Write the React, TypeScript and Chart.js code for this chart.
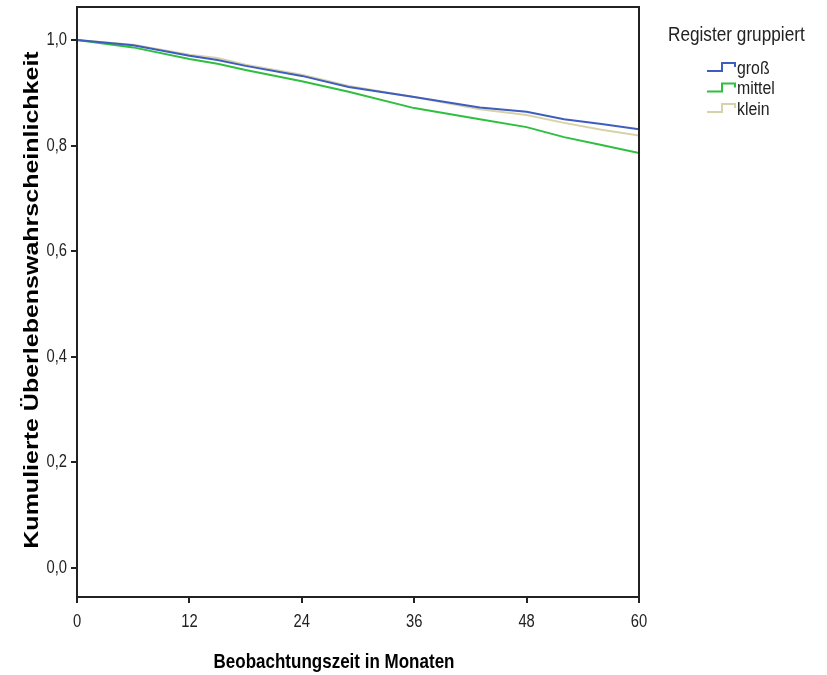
import React, { useEffect, useRef } from 'react';
import { Chart, registerables } from 'chart.js';
Chart.register(...registerables);

const months = [0, 6, 12, 15, 18, 24, 29, 36, 43, 48, 52, 56, 60];
const seriesNames = ['groß', 'mittel', 'klein'];
const gross = [1, 0.99, 0.97, 0.962, 0.951, 0.932, 0.911, 0.892, 0.872, 0.864, 0.85, 0.841, 0.831];
const mittel = [1, 0.986, 0.964, 0.955, 0.943, 0.922, 0.902, 0.871, 0.85, 0.835, 0.816, 0.801, 0.786];
const klein = [1, 0.991, 0.972, 0.966, 0.953, 0.934, 0.913, 0.892, 0.869, 0.858, 0.843, 0.83, 0.819];
const seriesColors = ['#3f5cbf', '#2fbf3f', '#d8d2a8'];
const yTicks = [0, 0.2, 0.4, 0.6, 0.8, 1.0];
const xTicks = [0, 12, 24, 36, 48, 60];
const X_TITLE = 'Beobachtungszeit in Monaten';
const Y_TITLE = 'Kumulierte Überlebenswahrscheinlichkeit';
const LEGEND_TITLE = 'Register gruppiert';

const SANS = '"Liberation Sans", Arial, sans-serif';
const INK = '#222';

function squeezed(ctx: CanvasRenderingContext2D, text: string, x: number, y: number, font: string, sx: number, align: CanvasTextAlign) {
  ctx.save();
  ctx.translate(x, y);
  ctx.scale(sx, 1);
  ctx.font = font;
  ctx.textAlign = align;
  ctx.textBaseline = 'middle';
  ctx.fillText(text, 0, 0);
  ctx.restore();
}

export default function App() {
  const ref = useRef<HTMLCanvasElement>(null);
  useEffect(() => {
    document.body.style.margin = '0';
    const decor = {
      id: 'decor',
      afterDraw(chart: any) {
        const { ctx, chartArea: a } = chart;
        ctx.save();
        ctx.strokeStyle = INK;
        ctx.lineWidth = 2;
        ctx.strokeRect(a.left, a.top, a.right - a.left, a.bottom - a.top);
        // tick labels
        ctx.fillStyle = INK;
        const xs = chart.scales.x;
        xs.ticks.forEach((t: any) => {
          squeezed(ctx, String(t.label), xs.getPixelForValue(t.value), 622, '18px ' + SANS, 0.82, 'center');
        });
        const ys = chart.scales.y;
        ys.ticks.forEach((t: any) => {
          squeezed(ctx, String(t.label), 67, ys.getPixelForValue(t.value), '18px ' + SANS, 0.82, 'right');
        });
        // x title
        ctx.fillStyle = '#000';
        squeezed(ctx, X_TITLE, 334, 662, 'bold 21px ' + SANS, 0.81, 'center');
        // y title
        ctx.save();
        ctx.translate(32, 300);
        ctx.rotate(-Math.PI / 2);
        ctx.scale(1, 0.82);
        ctx.font = 'bold 25px ' + SANS;
        ctx.textAlign = 'center';
        ctx.textBaseline = 'middle';
        ctx.fillText(Y_TITLE, 0, 0);
        ctx.restore();
        // legend
        ctx.fillStyle = INK;
        squeezed(ctx, LEGEND_TITLE, 668, 35, '20px ' + SANS, 0.86, 'left');
        chart.data.datasets.forEach((ds: any, i: number) => {
          const y = 69 + i * 20.5;
          ctx.strokeStyle = ds.borderColor;
          ctx.lineWidth = 2;
          ctx.beginPath();
          ctx.moveTo(707, y + 2);
          ctx.lineTo(722, y + 2);
          ctx.lineTo(722, y - 6);
          ctx.lineTo(735, y - 6);
          ctx.lineTo(735, y - 2);
          ctx.stroke();
          ctx.fillStyle = INK;
          squeezed(ctx, ds.label, 737, y, '18px ' + SANS, 0.88, 'left');
        });
        ctx.restore();
      },
    };
    const values = [gross, mittel, klein];
    const chart = new Chart(ref.current!, {
      type: 'line',
      data: {
        datasets: seriesNames.map((name, i) => ({
          label: name,
          data: months.map((m, j) => ({ x: m, y: values[i][j] })),
          borderColor: seriesColors[i],
          borderWidth: 2,
          pointRadius: 0,
          fill: false,
          tension: 0,
        })),
      },
      options: {
        animation: false,
        responsive: false,
        devicePixelRatio: 1,
        layout: { padding: { left: 0, top: 7, right: 188, bottom: 0 } },
        plugins: { legend: { display: false }, tooltip: { enabled: false } },
        scales: {
          x: {
            type: 'linear',
            min: 0,
            max: 60,
            afterBuildTicks: (s: any) => { s.ticks = xTicks.map((v) => ({ value: v })); },
            afterFit: (s: any) => { s.height = 78; },
            border: { display: false },
            grid: { drawOnChartArea: false, drawTicks: true, tickLength: 6, color: INK, lineWidth: 2 },
            ticks: { display: false, callback: (v: any) => String(v) },
          },
          y: {
            type: 'linear',
            min: -0.055,
            max: 1.0625,
            afterBuildTicks: (s: any) => { s.ticks = yTicks.map((v) => ({ value: v })); },
            afterFit: (s: any) => { s.width = 77; },
            border: { display: false },
            grid: { drawOnChartArea: false, drawTicks: true, tickLength: 6, color: INK, lineWidth: 2 },
            ticks: {
              display: false,
              callback: (v: any) => Number(v).toFixed(1).replace('.', ','),
            },
          },
        },
      },
      plugins: [decor],
    });
    return () => chart.destroy();
  }, []);
  return (
    <div style={{ width: 827, height: 675 }}>
      <canvas ref={ref} width={827} height={675} />
    </div>
  );
}
